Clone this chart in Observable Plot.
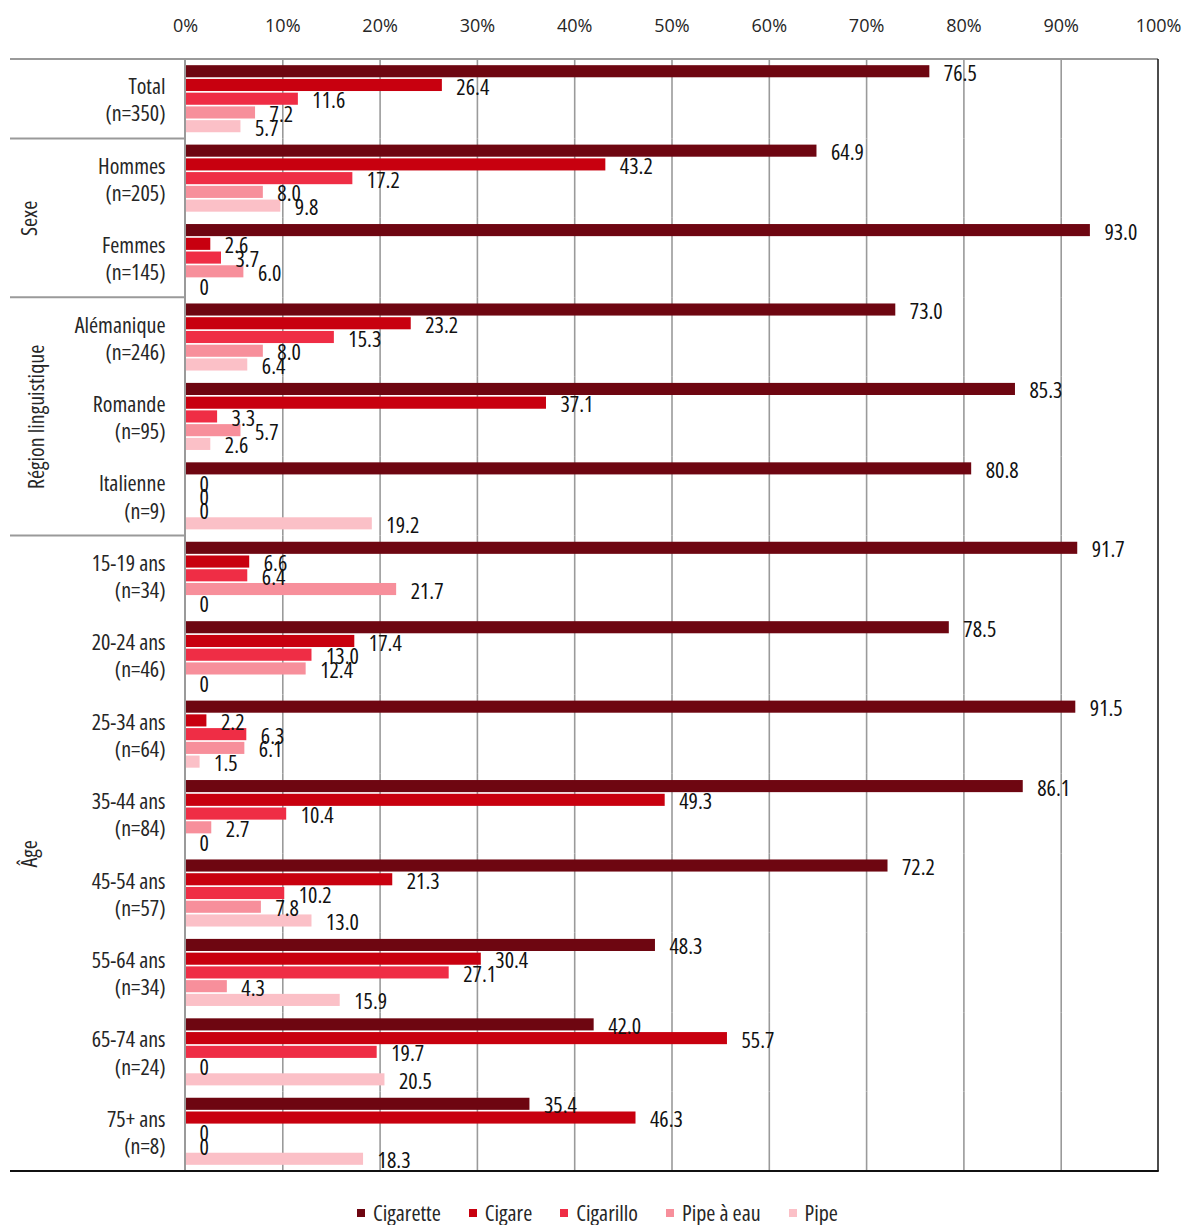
<!DOCTYPE html>
<html>
<head>
<meta charset="utf-8">
<script src="https://cdn.jsdelivr.net/npm/d3@7"></script>
<script src="https://cdn.jsdelivr.net/npm/@observablehq/plot@0.6"></script>
<style>
  html, body { margin: 0; padding: 0; background: #fff; }
  #chart { width: 1183px; }
  #chart svg text { font-family: "Open Sans", "DejaVu Sans", sans-serif; font-stretch: 75%; }
  #chart svg g[aria-label="x-axis tick label"] text { font-stretch: 100%; font-size: 18px; }
  #legend { display: flex; justify-content: center; align-items: center; margin-top: 15px; padding-left: 40px;
            font-family: "Open Sans", "DejaVu Sans", sans-serif; font-stretch: 75%; font-size: 22px; color: #262626; line-height: 25px; }
  #legend .item { display: flex; align-items: center; margin-right: 28px; }
  #legend .sw { width: 8px; height: 8px; margin-right: 8px; display: inline-block; }
</style>
</head>
<body>
<div id="chart"></div>
<script>
// ---- data ----
const categories = ["Total", "Hommes", "Femmes", "Alémanique", "Romande", "Italienne",
  "15-19 ans", "20-24 ans", "25-34 ans", "35-44 ans", "45-54 ans", "55-64 ans", "65-74 ans", "75+ ans"];
const sampleSizes = [350, 205, 145, 246, 95, 9, 34, 46, 64, 84, 57, 34, 24, 8];
const series = ["Cigarette", "Cigare", "Cigarillo", "Pipe à eau", "Pipe"];
const cigarette = [76.5, 64.9, 93.0, 73.0, 85.3, 80.8, 91.7, 78.5, 91.5, 86.1, 72.2, 48.3, 42.0, 35.4];
const cigare    = [26.4, 43.2, 2.6, 23.2, 37.1, 0, 6.6, 17.4, 2.2, 49.3, 21.3, 30.4, 55.7, 46.3];
const cigarillo = [11.6, 17.2, 3.7, 15.3, 3.3, 0, 6.4, 13.0, 6.3, 10.4, 10.2, 27.1, 19.7, 0];
const pipeEau   = [7.2, 8.0, 6.0, 8.0, 5.7, 0, 21.7, 12.4, 6.1, 2.7, 7.8, 4.3, 0, 0];
const pipe      = [5.7, 9.8, 0, 6.4, 2.6, 19.2, 0, 0, 1.5, 0, 13.0, 15.9, 20.5, 18.3];
const groups = [
  {label: "Sexe", members: ["Hommes", "Femmes"]},
  {label: "Région linguistique", members: ["Alémanique", "Romande", "Italienne"]},
  {label: "Âge", members: ["15-19 ans", "20-24 ans", "25-34 ans", "35-44 ans", "45-54 ans", "55-64 ans", "65-74 ans", "75+ ans"]}
];
const xTicks = [0, 10, 20, 30, 40, 50, 60, 70, 80, 90, 100];
const colors = ["#6e0611", "#c8000f", "#ef2d45", "#f78f9b", "#fbc0c7"];

// ---- table for Plot ----
const seriesValues = [cigarette, cigare, cigarillo, pipeEau, pipe];
const rows = [];
categories.forEach((c, i) => series.forEach((s, j) => rows.push({category: c, series: s, value: seriesValues[j][i]})));
const catLabels = categories.map((c, i) => ({category: c, label: `${c}\n(n=${sampleSizes[i]})`}));
const groupLabels = groups.map(g => {
  const n = g.members.length;
  if (n % 2 === 1) return {label: g.label, category: g.members[(n - 1) / 2], anchor: "left"};
  return {label: g.label, category: g.members[n / 2 - 1], anchor: "bottom-left"};
});

const plot = Plot.plot({
  width: 1183,
  height: 1185,
  marginTop: 59,
  marginLeft: 185,
  marginRight: 25,
  marginBottom: 14,
  style: {fontFamily: '"Open Sans", "DejaVu Sans", sans-serif', background: "#fff"},
  x: {domain: [0, 100], axis: null},
  fy: {domain: categories, padding: 0, round: false, axis: null},
  y: {domain: series, paddingInner: 0.12, paddingOuter: 0.45, round: false, axis: null},
  color: {domain: series, range: colors},
  marks: [
    Plot.ruleX(xTicks.filter(t => t > 0 && t < 100), {stroke: "#9a9a9a", strokeWidth: 1.6}),
    Plot.barX(rows, {x: "value", y: "series", fy: "category", fill: "series"}),
    Plot.text(rows, {x: "value", y: "series", fy: "category",
      text: d => d.value === 0 ? "0" : d.value.toFixed(1),
      textAnchor: "start", dx: 14, dy: 2, fontSize: 22, fill: "#111"}),
    Plot.text(catLabels, {fy: "category", text: "label", frameAnchor: "left", textAnchor: "end",
      dx: -20, fontSize: 22, lineHeight: 1.23, fill: "#262626"}),
    ...groupLabels.map(g => Plot.text([g], {fy: "category", text: "label", frameAnchor: g.anchor,
      textAnchor: "middle", rotate: -90, dx: -149, fontSize: 22, fill: "#262626"})),
    Plot.axisX(xTicks, {anchor: "top", tickSize: 0, tickPadding: 28, label: null, tickFormat: d => d + "%", fill: "#262626"})
  ]
});

document.getElementById("chart").appendChild(plot);

// ---- table frame lines, positioned through Plot's own scales ----
const fyScale = plot.scale("fy");
const xScale = plot.scale("x");
const svgSel = d3.select(plot);
const frameTop = fyScale.apply(categories[0]);
const frameBottom = fyScale.apply(categories[categories.length - 1]) + fyScale.bandwidth;
const xZero = xScale.apply(0), xFull = xScale.apply(100);
const lineG = svgSel.append("g").attr("fill", "none");
lineG.append("line").attr("x1", 10).attr("x2", xFull).attr("y1", frameTop).attr("y2", frameTop).attr("stroke", "#9a9a9a").attr("stroke-width", 2);
groups.forEach(gr => {
  const yy = fyScale.apply(gr.members[0]);
  lineG.append("line").attr("x1", 10).attr("x2", xZero).attr("y1", yy).attr("y2", yy).attr("stroke", "#9a9a9a").attr("stroke-width", 2);
});
lineG.append("line").attr("x1", xZero).attr("x2", xZero).attr("y1", frameTop).attr("y2", frameBottom).attr("stroke", "#9a9a9a").attr("stroke-width", 2);
lineG.append("line").attr("x1", xFull).attr("x2", xFull).attr("y1", frameTop).attr("y2", frameBottom).attr("stroke", "#111").attr("stroke-width", 1.5);
lineG.append("line").attr("x1", 10).attr("x2", xFull + 0.75).attr("y1", frameBottom).attr("y2", frameBottom).attr("stroke", "#111").attr("stroke-width", 2);

// ---- legend ----
const legend = d3.select("body").append("div").attr("id", "legend");
series.forEach((s, i) => {
  const it = legend.append("div").attr("class", "item");
  it.append("span").attr("class", "sw").style("background", colors[i]);
  it.append("span").text(s);
});
</script>
</body>
</html>
